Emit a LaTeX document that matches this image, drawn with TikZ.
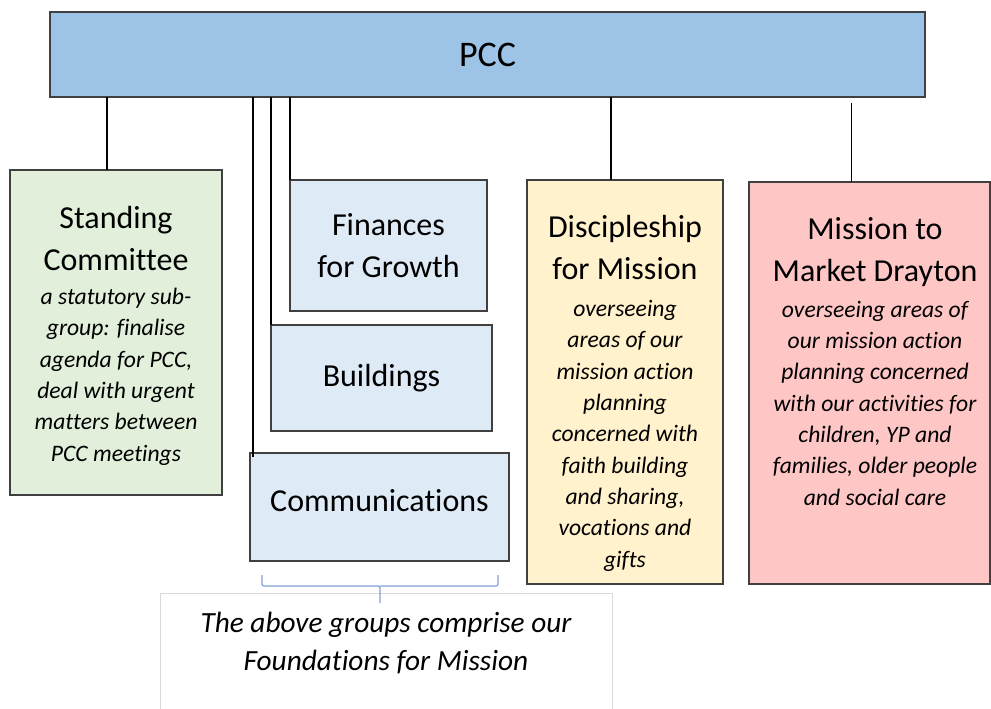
\documentclass[tikz,border=0pt]{standalone}
\usepackage{fontspec}
\setmainfont[Ligatures=NoCommon]{Carlito}
\definecolor{pccblue}{HTML}{9DC3E6}
\definecolor{subblue}{HTML}{DEEAF6}
\definecolor{standgreen}{HTML}{E2EFDA}
\definecolor{discyellow}{HTML}{FFF2CC}
\definecolor{missionpink}{HTML}{FFC6C6}
\definecolor{boxline}{HTML}{404040}
\definecolor{notegray}{HTML}{D9D9D9}
\definecolor{bracketblue}{HTML}{7F9FD6}

\begin{document}
\begin{tikzpicture}[
	x=1pt, y=-1pt,
	every node/.style = {inner sep=0pt, outer sep=0pt, align=center},
	unit/.style = {draw=boxline, line width=1.3pt},
	link/.style = {draw, line width=1.8pt},
	title text/.style = {font=\fontsize{32}{42}\selectfont},
	desc text/.style = {font=\fontsize{23.6}{31.3}\selectfont\itshape},
	bracket/.style = {draw=bracketblue, line width=1.2pt, rounded corners=2pt}
	]
	\useasboundingbox (0,0) rectangle (991,709);
	
	% PCC
	\node[unit, fill=pccblue, minimum width=875pt, minimum height=85pt, font=\fontsize{36}{42}\selectfont] (pcc) at (487.5,54.5) {PCC};
	
	% Sub-groups
	\node[unit, fill=standgreen, minimum width=212pt, minimum height=325pt] (standing) at (116,332.5) {};
	\node[unit, fill=subblue, minimum width=197pt, minimum height=131pt, title text] (finances) at (388.5,245.5) {Finances\\for Growth};
	\node[unit, fill=subblue, minimum width=221pt, minimum height=106pt, title text] (buildings) at (381.5,378) {Buildings};
	\node[unit, fill=subblue, minimum width=259pt, minimum height=108pt, title text, text depth=14pt] (comms) at (379.5,507) {Communications};
	\node[unit, fill=discyellow, minimum width=196pt, minimum height=404pt] (disciple) at (625,382) {};
	\node[unit, fill=missionpink, minimum width=241pt, minimum height=402pt] (mission) at (869.5,383) {};
	
	% Texts of the tall boxes (anchored at the last line)
	\node[title text, anchor=base] (standing-title) at (116,270) {Standing\\Committee};
	\node[desc text, anchor=base] (standing-desc) at (116,461) {a statutory sub-\\group: finalise\\agenda for PCC,\\deal with urgent\\matters between\\PCC meetings};
	\node[title text, anchor=base] (disciple-title) at (625,279) {Discipleship\\for Mission};
	\node[desc text, anchor=base] (disciple-desc) at (625,567) {overseeing\\areas of our\\mission action\\planning\\concerned with\\faith building\\and sharing,\\vocations and\\gifts};
	\node[title text, anchor=base] (mission-title) at (875,281) {Mission to\\Market Drayton};
	\node[desc text, anchor=base] (mission-desc) at (875,505) {overseeing areas of\\our mission action\\planning concerned\\with our activities for\\children, YP and\\families, older people\\and social care};
	
	% Connectors to PCC
	\draw[link] ([xshift=-9pt]standing.north |- pcc.south) -- ([xshift=-9pt]standing.north);
	\draw[link] ([xshift=3pt]comms.north west |- pcc.south) -- ([xshift=3pt,yshift=-4pt]comms.north west);
	\draw[link] (buildings.north west |- pcc.south) -- (buildings.north west);
	\draw[link] (finances.north west |- pcc.south) -- (finances.north west);
	\draw[link] ([xshift=-14pt]disciple.north |- pcc.south) -- ([xshift=-14pt]disciple.north);
	\draw[link] ([xshift=-18pt,yshift=-6pt]mission.north |- pcc.south) -- ([xshift=-18pt]mission.north);
	
	% Note on the foundations
	\node[draw=notegray, line width=0.8pt, fill=white, minimum width=452pt, minimum height=130pt] (note) at (386,658) {};
	\node[font=\fontsize{29.3}{38}\selectfont\itshape, anchor=base] (note-text) at (386,670) {The above groups comprise our\\Foundations for Mission};
	\coordinate (brace-left) at (262,575);
	\coordinate (brace-right) at (498,575);
	\coordinate (brace-tip) at (380,603);
	\draw[bracket] (brace-left) |- (brace-tip |- 0,586) -- (brace-tip);
	\draw[bracket] (brace-right) |- (brace-tip |- 0,586);
	
\end{tikzpicture}
\end{document}
